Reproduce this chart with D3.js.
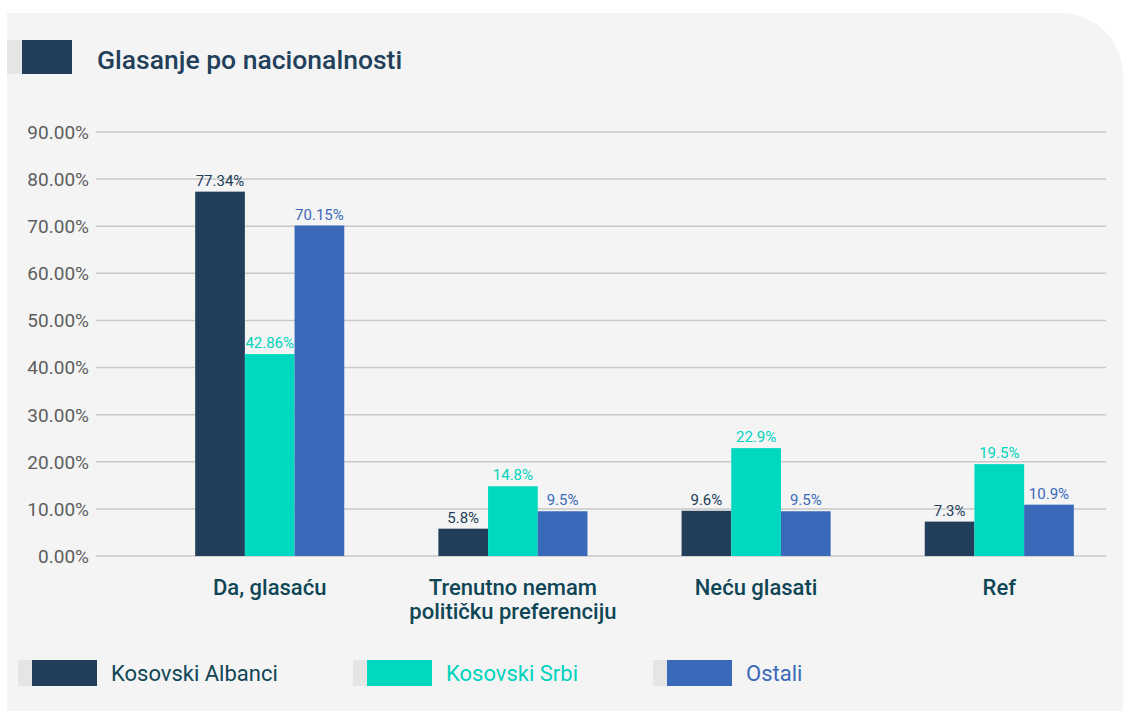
<!DOCTYPE html>
<html>
<head>
<meta charset="utf-8">
<script src="https://cdn.jsdelivr.net/npm/d3@7"></script>
<style>
  html, body { margin: 0; padding: 0; background: #fff; }
  svg { display: block; font-family: Roboto, "Noto Sans", sans-serif; }
</style>
</head>
<body>
<div id="chart"></div>
<script>
const categories = [["Da, glasaću"], ["Trenutno nemam", "političku preferenciju"], ["Neću glasati"], ["Ref"]];
const seriesNames = ["Kosovski Albanci", "Kosovski Srbi", "Ostali"];
const albanci = [77.34, 5.8, 9.6, 7.3];
const srbi = [42.86, 14.8, 22.9, 19.5];
const ostali = [70.15, 9.5, 9.5, 10.9];
const valueLabels = [
  ["77.34%", "5.8%", "9.6%", "7.3%"],
  ["42.86%", "14.8%", "22.9%", "19.5%"],
  ["70.15%", "9.5%", "9.5%", "10.9%"]
];
const yTicks = [0, 10, 20, 30, 40, 50, 60, 70, 80, 90];

const colors = ["#213f5b", "#00d9c0", "#3b69b9"];
const textColors = ["#22405a", "#00d3bd", "#3b69b9"];

const width = 1123, height = 711;
const series = [albanci, srbi, ostali];

const svg = d3.select("#chart").append("svg")
    .attr("width", width)
    .attr("height", height);

// panel with rounded top-right corner
const px = 7, py = 13, pr = 62;
svg.append("path")
    .attr("fill", "#f4f4f4")
    .attr("d", `M${px},${py} H${width - pr} A${pr},${pr} 0 0 1 ${width},${py + pr} V${height} H${px} Z`);

// title
svg.append("rect").attr("x", 7).attr("y", 40).attr("width", 15).attr("height", 34).attr("fill", "#e5e5e5");
svg.append("rect").attr("x", 22).attr("y", 40).attr("width", 50).attr("height", 34).attr("fill", colors[0]);
svg.append("text")
    .attr("x", 97).attr("y", 69)
    .attr("fill", "#22405a")
    .style("font-size", "26.5px")
    .style("font-weight", 500)
    .text("Glasanje po nacionalnosti");

const y = d3.scaleLinear().domain([0, 90]).range([556, 132]);
const x0 = d3.scaleBand().domain(d3.range(categories.length)).range([148, 1121]).paddingInner(0.387).paddingOuter(0.194);
const x1 = d3.scaleBand().domain(d3.range(series.length)).range([0, x0.bandwidth()]);

// gridlines + y labels
const grid = svg.append("g");
grid.selectAll("line")
    .data(yTicks)
    .join("line")
    .attr("x1", 96).attr("x2", 1106)
    .attr("y1", d => y(d)).attr("y2", d => y(d))
    .attr("stroke", "#c9c9c9")
    .attr("stroke-width", 1.5);
grid.selectAll("text")
    .data(yTicks)
    .join("text")
    .attr("x", 89)
    .attr("y", d => y(d))
    .attr("dy", "0.36em")
    .attr("text-anchor", "end")
    .attr("fill", "#5e5e5e")
    .style("font-size", "19px")
    .text(d => d.toFixed(2) + "%");

// bars
series.forEach((vals, s) => {
    const g = svg.append("g");
    g.selectAll("rect")
        .data(vals)
        .join("rect")
        .attr("x", (d, i) => x0(i) + x1(s))
        .attr("y", d => y(d))
        .attr("width", x1.bandwidth())
        .attr("height", d => y(0) - y(d))
        .attr("fill", colors[s]);
});

// value labels
series.forEach((vals, s) => {
    svg.append("g").selectAll("text")
        .data(vals)
        .join("text")
        .attr("x", (d, i) => x0(i) + x1(s) + x1.bandwidth() / 2)
        .attr("y", d => y(d) - 6)
        .attr("text-anchor", "middle")
        .attr("fill", textColors[s])
        .style("font-size", "15px")
        .text((d, i) => valueLabels[s][i]);
});

// category labels
svg.append("g").selectAll("text")
    .data(categories)
    .join("text")
    .attr("text-anchor", "middle")
    .attr("fill", "#0f4656")
    .style("font-size", "22px")
    .style("font-weight", 500)
    .each(function(lines, i) {
        const t = d3.select(this);
        lines.forEach((line, k) => {
            t.append("tspan")
                .attr("x", x0(i) + x0.bandwidth() / 2)
                .attr("y", 595 + k * 24)
                .text(line);
        });
    });

// legend
const legendX = [18, 353, 653];
const legendText = ["#0f4656", "#00d3bd", "#3b69b9"];
seriesNames.forEach((name, s) => {
    const lx = legendX[s];
    svg.append("rect").attr("x", lx).attr("y", 660).attr("width", 14).attr("height", 26).attr("fill", "#e5e5e5");
    svg.append("rect").attr("x", lx + 14).attr("y", 660).attr("width", 65).attr("height", 26).attr("fill", colors[s]);
    svg.append("text")
        .attr("x", lx + 93).attr("y", 681)
        .attr("fill", legendText[s])
        .style("font-size", "22px")
        .text(name);
});
</script>
</body>
</html>
